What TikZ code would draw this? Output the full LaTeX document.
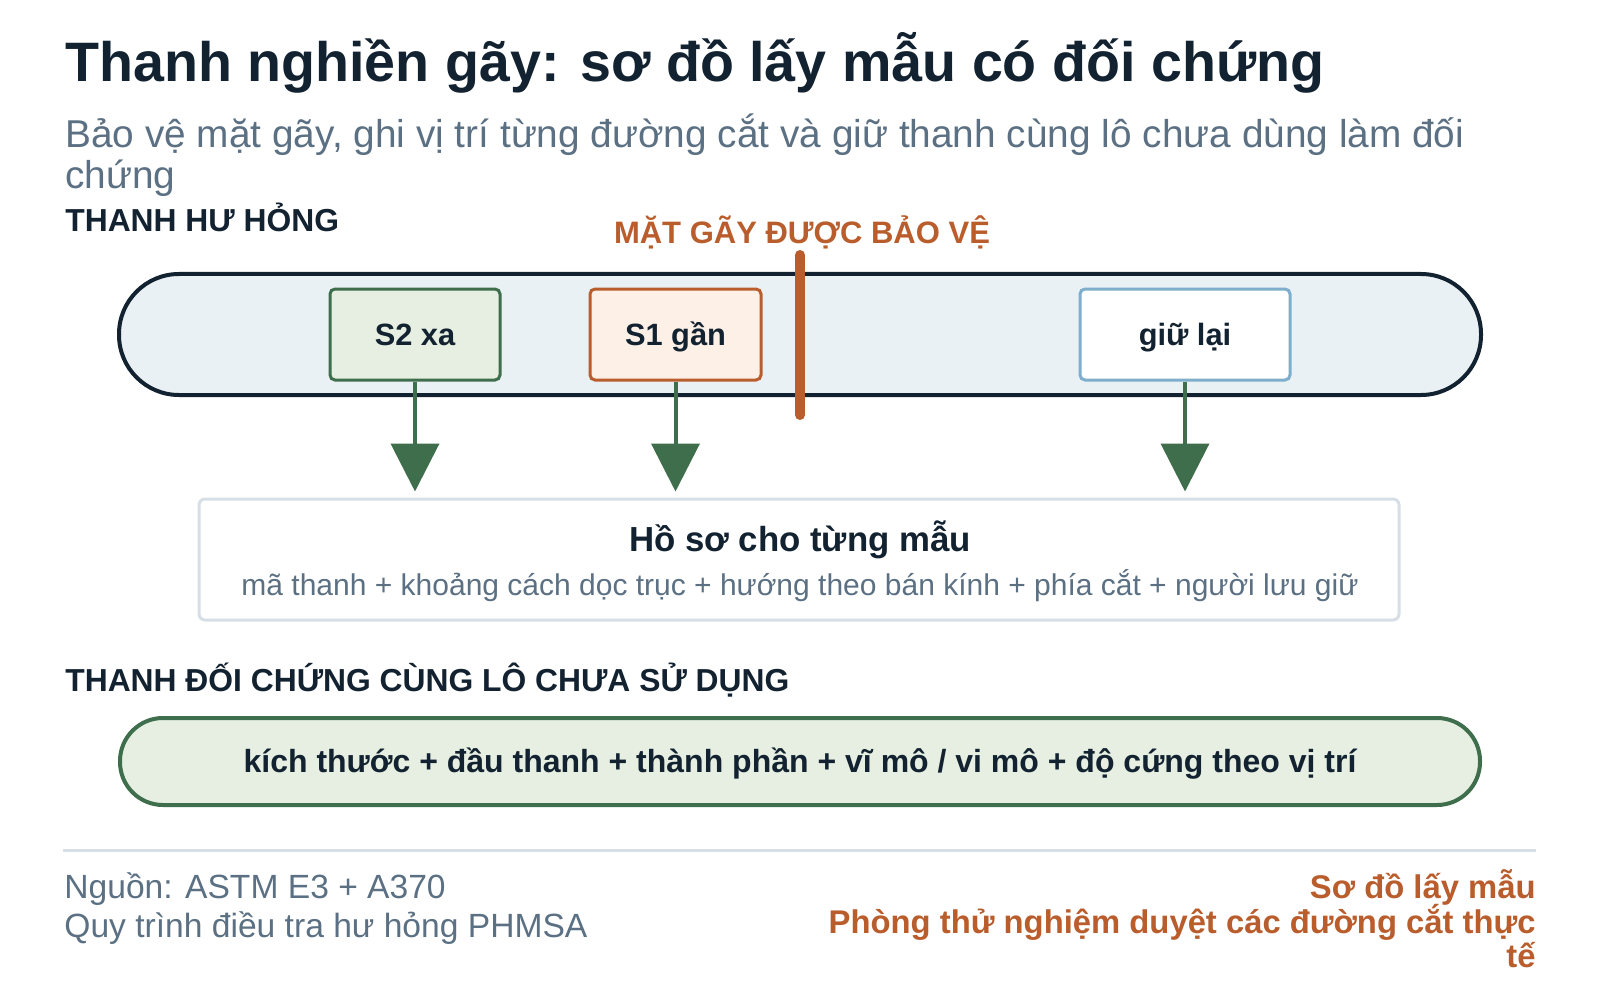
\documentclass[tikz,border=0pt]{standalone}
\usepackage{fontspec}
\setmainfont{Liberation Sans}
\usetikzlibrary{arrows.meta}
\definecolor{ink}{HTML}{132230}
\definecolor{slate}{HTML}{5B7083}
\definecolor{rust}{HTML}{B95D2C}
\definecolor{grn}{HTML}{3E6E4B}
\definecolor{grnfill}{HTML}{E6EFE2}
\definecolor{barfill}{HTML}{EAF1F5}
\definecolor{sky}{HTML}{7EAECB}
\definecolor{haze}{HTML}{D6DFE6}
\definecolor{rustfill}{HTML}{FDF1E7}
\tikzset{
  every node/.style={inner sep=0pt},
  fs/.style={font=\fontsize{#1}{#1}\selectfont},
  fb/.style={font=\fontsize{#1}{#1}\selectfont\bfseries},
  sample/.style={draw, line width=1.5pt, rounded corners=2.5pt, minimum height=45.5pt, fb=15.4, text=ink, text height=12pt, text depth=1.5pt},
  feed/.style={draw=grn, line width=2pt, -{Triangle[length=24pt,width=24pt]}, shorten >=3pt},
}
\begin{document}
\begin{tikzpicture}[x=0.5pt,y=-0.5pt]
\useasboundingbox (0,0) rectangle (1600,1000);
% heading
\node[anchor=base west, fb=27.8, text=ink] (title) at (65,82) {Thanh nghiền gãy: sơ đồ lấy mẫu có đối chứng};
\node[anchor=base west, fs=19.4, text=slate] (sub1) at (65,148) {Bảo vệ mặt gãy, ghi vị trí từng đường cắt và giữ thanh cùng lô chưa dùng làm đối};
\node[anchor=base west, fs=19.4, text=slate] (sub2) at (65,189) {chứng};
\node[anchor=base west, fb=15.9, text=ink] (lblbar) at (65,232) {THANH HƯ HỎNG};
% damaged bar
\node[draw=ink, fill=barfill, line width=2pt, rounded corners=30pt, minimum width=681pt, minimum height=60.5pt] (bar) at (800,334.5) {};
\node[sample, draw=grn, fill=grnfill, minimum width=85pt] (s2) at (415,334.5) {S2 xa};
\node[sample, draw=rust, fill=rustfill, minimum width=85.5pt] (s1) at (675.5,334.5) {S1 gần};
\node[sample, draw=sky, fill=white, minimum width=105pt] (keep) at (1185,334.5) {giữ lại};
\coordinate (cuttop) at (800,255);
\coordinate (cutbot) at (800,415);
\draw[rust, line width=5pt, line cap=round] (cuttop) -- (cutbot);
\node[anchor=base, fb=15.5, text=rust] (lblcut) at (802,244) {MẶT GÃY ĐƯỢC BẢO VỆ};
% record
\node[draw=haze, fill=white, line width=1.5pt, rounded corners=3pt, minimum width=600pt, minimum height=60.5pt] (rec) at (799,559.5) {};
\node[anchor=base, fb=17.4, text=ink] (rectitle) at (800,551) {Hồ sơ cho từng mẫu};
\node[anchor=base, fs=15, text=slate] (recsub) at (800,595) {mã thanh + khoảng cách dọc trục + hướng theo bán kính + phía cắt + người lưu giữ};
\foreach \s in {s2,s1,keep}
  \draw[feed] (\s.south) -- (\s.south |- rec.north);
% control bar
\node[anchor=base west, fb=15.9, text=ink] (lblctrl) at (65,691) {THANH ĐỐI CHỨNG CÙNG LÔ CHƯA SỬ DỤNG};
\node[draw=grn, fill=grnfill, line width=2pt, rounded corners=21.5pt, minimum width=680pt, minimum height=43.5pt, fb=16, text=ink, text height=12pt, text depth=1.5pt] (ctrl) at (800,761.5) {kích thước + đầu thanh + thành phần + vĩ mô / vi mô + độ cứng theo vị trí};
% footer
\coordinate (rulel) at (63,850);
\coordinate (ruler) at (1536,850);
\draw[haze, line width=1.5pt] (rulel) -- (ruler);
\node[anchor=base west, fs=16.8, text=slate] (src1) at (64,898) {Nguồn: ASTM E3 + A370};
\node[anchor=base west, fs=16.8, text=slate] (src2) at (64,937) {Quy trình điều tra hư hỏng PHMSA};
\node[anchor=base east, fb=16.4, text=rust] (note1) at (1536,898) {Sơ đồ lấy mẫu};
\node[anchor=base east, fb=16.4, text=rust] (note2) at (1536,933) {Phòng thử nghiệm duyệt các đường cắt thực};
\node[anchor=base east, fb=16.4, text=rust] (note3) at (1536,967) {tế};
\end{tikzpicture}
\end{document}
